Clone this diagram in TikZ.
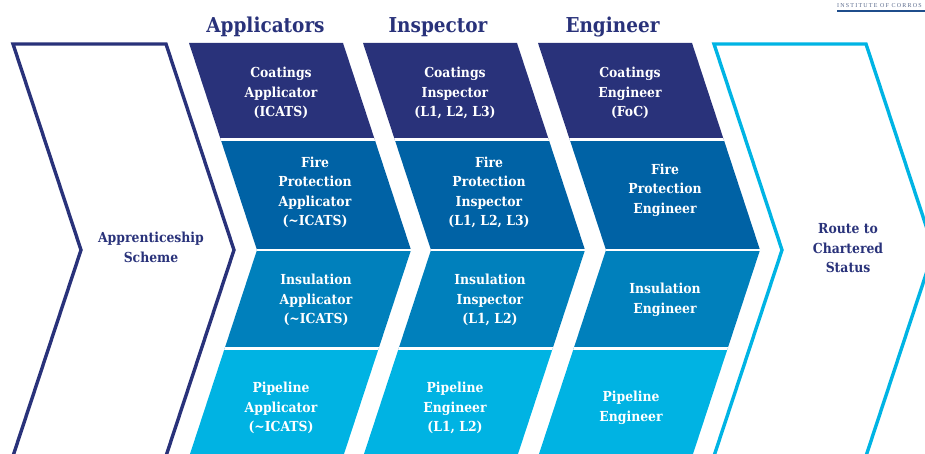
\documentclass[tikz,border=0pt]{standalone}
\usepackage{fontspec}
\setmainfont{DejaVu Serif Condensed}
\newfontfamily\instfont[LetterSpace=20]{Liberation Serif}
\definecolor{navy}{HTML}{29327A}
\definecolor{rowB}{HTML}{0062A5}
\definecolor{rowC}{HTML}{0080BC}
\definecolor{rowD}{HTML}{00B3E3}
\definecolor{cyanline}{HTML}{00B4E4}
\definecolor{instblue}{HTML}{1F4E8C}
\definecolor{instgrey}{HTML}{5A6A8C}
\tikzset{
  celltext/.style={text=white, align=center, inner sep=0pt, font=\bfseries\fontsize{13.8}{19.5}\selectfont},
  sidetext/.style={text=navy, align=center, inner sep=0pt, font=\bfseries\fontsize{13.8}{19.5}\selectfont},
  headtext/.style={text=navy, anchor=base, inner sep=0pt, font=\bfseries\fontsize{20.5}{24}\selectfont},
  sepline/.style={white, line width=2.8pt},
  outlinechev/.style={line width=3.4pt, miter limit=10, line join=miter}
}
\begin{document}
\begin{tikzpicture}[x=1pt,y=-1pt]
\useasboundingbox (0,0) rectangle (925,454);
\clip (0,0) rectangle (925,454);
% outline chevrons
\draw[outlinechev, navy] (13,44) -- (166,44) -- (234,250) -- (166,456) -- (13,456) -- (81,250) -- cycle;
\draw[outlinechev, cyanline] (714,44) -- (866,44) -- (934,250) -- (866,456) -- (714,456) -- (782,250) -- cycle;
% filled columns
\foreach \x in {189,363,538}{
  \begin{scope}
    \clip (\x,43) -- ++(154,0) -- ++(68,207) -- ++(-68,207) -- ++(-154,0) -- ++(68,-207) -- cycle;
    \fill[navy] (0,0) rectangle (925,139.7);
    \fill[rowB] (0,139.7) rectangle (925,250);
    \fill[rowC] (0,250) rectangle (925,348.7);
    \fill[rowD] (0,348.7) rectangle (925,470);
    \draw[sepline] (0,139.7) -- (925,139.7);
    \draw[sepline] (0,250) -- (925,250);
    \draw[sepline] (0,348.7) -- (925,348.7);
  \end{scope}
}
% headers
\node[headtext] (hA) at (265.5,33) {Applicators};
\node[headtext] (hI) at (438,33) {Inspector};
\node[headtext] (hE) at (612.5,33) {Engineer};
% applicators
\node[celltext] (a1) at (281,93) {Coatings\\Applicator\\(ICATS)};
\node[celltext] (a2) at (315,192.5) {Fire\\Protection\\Applicator\\(\textasciitilde ICATS)};
\node[celltext] (a3) at (316,300) {Insulation\\Applicator\\(\textasciitilde ICATS)};
\node[celltext] (a4) at (281,408) {Pipeline\\Applicator\\(\textasciitilde ICATS)};
% inspector
\node[celltext] (i1) at (455,93) {Coatings\\Inspector\\(L1, L2, L3)};
\node[celltext] (i2) at (489,192.5) {Fire\\Protection\\Inspector\\(L1, L2, L3)};
\node[celltext] (i3) at (490,300) {Insulation\\Inspector\\(L1, L2)};
\node[celltext] (i4) at (455,408) {Pipeline\\Engineer\\(L1, L2)};
% engineer
\node[celltext] (e1) at (630,93) {Coatings\\Engineer\\(FoC)};
\node[celltext] (e2) at (665,190) {Fire\\Protection\\Engineer};
\node[celltext] (e3) at (665,300) {Insulation\\Engineer};
\node[celltext] (e4) at (631,408) {Pipeline\\Engineer};
% sides
\node[sidetext] (ap) at (151,247.5) {Apprenticeship\\Scheme};
\node[sidetext] (rc) at (848,248.5) {Route to\\Chartered\\Status};
% institute header
\node[anchor=base west, inner sep=0pt, text=instgrey, font=\instfont\fontsize{6}{7}\selectfont] (inst) at (837,8) {INSTITUTE OF CORROS};
\coordinate (l1) at (837,11);
\coordinate (l2) at (925,11);
\draw[instblue, line width=1.1pt] (l1) -- (l2);
\end{tikzpicture}
\end{document}
